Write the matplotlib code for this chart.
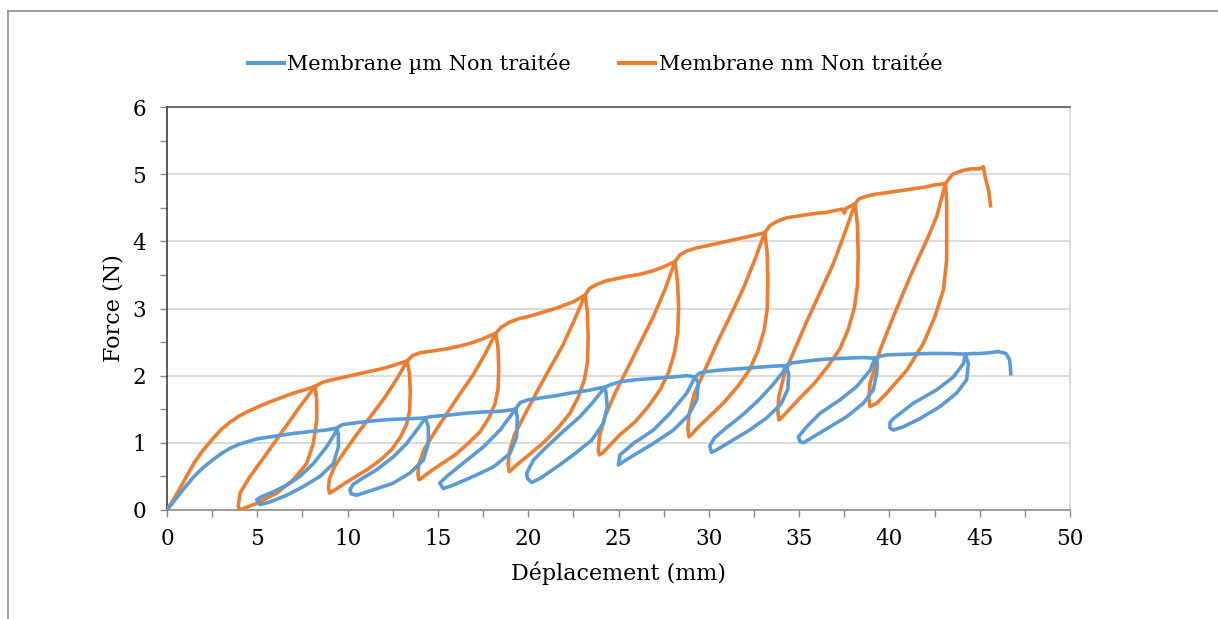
import numpy as np
import matplotlib.pyplot as plt
from matplotlib.lines import Line2D
from matplotlib.ticker import MultipleLocator

# Cyclic load / unload curves, (displacement mm, force N) in acquisition order
um_points = [
    # first loading
    (0, 0), (0.5, 0.17), (1, 0.34), (1.5, 0.5), (2, 0.63), (2.5, 0.74), (3, 0.84), (3.5, 0.92),
    (4, 0.98), (4.5, 1.02), (5, 1.06), (5.5, 1.08), (6, 1.1), (7, 1.14), (8, 1.17), (8.8, 1.19), (9.4, 1.22),
    # cycle 1
    (9.49, 1.12), (9.49, 0.94), (9.21, 0.69), (8.47, 0.50), (7.55, 0.35), (6.63, 0.22), (5.70, 0.12), (5.15, 0.08),
    (4.97, 0.15), (5.24, 0.20), (5.89, 0.27), (6.63, 0.37), (7.36, 0.50), (8.10, 0.69), (8.84, 0.94), (9.30, 1.14), (9.4, 1.22),
    (9.7, 1.27), (10.5, 1.3), (11.5, 1.33), (12.5, 1.35), (13.5, 1.36), (14.3, 1.37),
    # cycle 2
    (14.47, 1.24), (14.47, 0.99), (14.19, 0.74), (13.45, 0.55), (12.53, 0.40), (11.42, 0.30), (10.5, 0.22), (10.2, 0.24),
    (10.13, 0.30), (10.3, 0.38), (10.69, 0.45), (11.61, 0.60), (12.53, 0.79), (13.27, 0.99), (13.91, 1.22), (14.3, 1.37),
    (14.6, 1.39), (15.5, 1.41), (16.5, 1.44), (17.5, 1.46), (18.5, 1.47), (19.3, 1.5),
    # cycle 3
    (19.4, 1.38), (19.36, 1.09), (18.99, 0.84), (18.07, 0.64), (16.96, 0.50), (15.85, 0.37), (15.3, 0.32),
    (15.1, 0.40), (15.49, 0.50), (16.6, 0.74), (17.52, 0.94), (18.44, 1.19), (18.99, 1.39), (19.3, 1.5),
    (19.55, 1.6), (20, 1.64), (20.5, 1.66), (21.5, 1.7), (22.3, 1.74), (23.3, 1.78), (24.25, 1.83),
    # cycle 4
    (24.31, 1.74), (24.38, 1.54), (24.16, 1.29), (23.52, 1.04), (22.59, 0.84), (21.58, 0.64), (20.65, 0.47), (20.19, 0.41),
    (19.95, 0.47), (19.92, 0.55), (20.28, 0.74), (21.02, 0.94), (21.94, 1.17), (22.87, 1.39), (23.6, 1.61), (24.25, 1.83),
    (24.6, 1.87), (25.1, 1.91), (26, 1.94), (27, 1.96), (28, 1.98), (28.8, 2.0), (29.24, 1.98),
    # cycle 5
    (29.42, 1.89), (29.33, 1.64), (28.87, 1.41), (28.04, 1.19), (26.93, 0.99), (26.0, 0.84), (25.27, 0.72), (24.99, 0.67),
    (25.08, 0.82), (25.82, 0.99), (26.93, 1.19), (27.85, 1.44), (28.78, 1.74), (29.24, 1.98),
    (29.5, 2.04), (29.9, 2.06), (30.5, 2.08), (31.5, 2.1), (32.5, 2.12), (33.5, 2.14), (34.28, 2.15),
    # cycle 6
    (34.42, 2.03), (34.38, 1.80), (34.0, 1.58), (33.2, 1.37), (32.2, 1.18), (31.2, 1.02), (30.4, 0.89), (30.15, 0.86),
    (30.05, 0.95), (30.3, 1.07), (30.9, 1.21), (31.8, 1.40), (32.7, 1.62), (33.5, 1.85), (34.1, 2.05), (34.28, 2.15),
    (34.6, 2.19), (35.2, 2.21), (35.8, 2.23), (36.7, 2.25), (37.6, 2.26), (38.5, 2.27), (39.2, 2.26),
    # cycle 7
    (39.33, 2.18), (39.3, 2.04), (39.11, 1.79), (38.56, 1.59), (37.64, 1.39), (36.71, 1.24), (35.79, 1.09), (35.24, 1.0), (35.05, 1.02),
    (34.96, 1.09), (35.42, 1.24), (36.16, 1.44), (37.26, 1.64), (38.19, 1.84), (38.93, 2.08), (39.2, 2.26),
    (39.5, 2.29), (39.9, 2.31), (41, 2.32), (42.2, 2.33), (43.3, 2.33), (44.2, 2.32),
    # cycle 8
    (44.37, 2.18), (44.28, 1.94), (43.72, 1.74), (42.8, 1.54), (41.69, 1.36), (40.77, 1.24), (40.22, 1.19), (40.03, 1.22),
    (40.03, 1.30), (40.22, 1.36), (41.32, 1.59), (42.62, 1.79), (43.54, 1.98), (44.1, 2.18), (44.2, 2.32),
    # final loading to rupture
    (44.6, 2.33), (45.0, 2.33), (45.5, 2.34), (46.0, 2.36), (46.45, 2.33), (46.65, 2.24), (46.7, 2.12), (46.72, 2.03),
]

nm_points = [
    # first loading
    (0, 0), (0.5, 0.22), (1, 0.46), (1.5, 0.7), (2, 0.89), (2.5, 1.05), (3, 1.2), (3.5, 1.31), (4, 1.4),
    (4.5, 1.47), (5, 1.53), (5.5, 1.59), (6, 1.64), (6.5, 1.69), (7, 1.74), (7.5, 1.78), (8.2, 1.84),
    # cycle 1
    (8.29, 1.64), (8.29, 1.34), (8.10, 0.99), (7.73, 0.69), (6.99, 0.45), (6.07, 0.25), (4.97, 0.10), (4.13, 0.01), (4.0, 0.0),
    (3.95, 0.07), (4.04, 0.25), (4.60, 0.50), (5.52, 0.84), (6.44, 1.19), (7.36, 1.54), (8.2, 1.84),
    (8.6, 1.90), (9, 1.93), (9.5, 1.96), (10, 1.99), (10.5, 2.02), (11, 2.05), (11.5, 2.08), (12, 2.11), (12.5, 2.15), (13.3, 2.22),
    # cycle 2
    (13.43, 2.02), (13.47, 1.75), (13.43, 1.47), (13.26, 1.27), (12.91, 1.08), (12.44, 0.90), (11.80, 0.74), (11.02, 0.59),
    (10.16, 0.45), (9.52, 0.34), (9.13, 0.27), (9.0, 0.25),
    (8.94, 0.33), (9.0, 0.47), (9.30, 0.66), (9.86, 0.88), (10.55, 1.14), (11.32, 1.41), (12.05, 1.67), (12.70, 1.94), (13.3, 2.22),
    (13.6, 2.3), (14, 2.34), (14.5, 2.36), (15, 2.38), (15.5, 2.40), (16, 2.43), (16.5, 2.46), (17, 2.5), (17.5, 2.55), (18.2, 2.63),
    # cycle 3
    (18.33, 2.41), (18.37, 2.11), (18.33, 1.80), (18.16, 1.58), (17.82, 1.37), (17.35, 1.17), (16.71, 1.00), (15.95, 0.82),
    (15.10, 0.67), (14.46, 0.55), (14.08, 0.47), (13.95, 0.45),
    (13.89, 0.54), (13.95, 0.69), (14.25, 0.91), (14.80, 1.15), (15.48, 1.43), (16.25, 1.74), (16.97, 2.02), (17.61, 2.32), (18.2, 2.63),
    (18.5, 2.72), (19, 2.8), (19.5, 2.85), (20, 2.88), (20.5, 2.92), (21, 2.96), (21.5, 3.0), (22, 3.05), (22.5, 3.1), (23.15, 3.2),
    # cycle 4
    (23.28, 2.94), (23.32, 2.57), (23.28, 2.20), (23.11, 1.94), (22.77, 1.68), (22.31, 1.44), (21.68, 1.23), (20.92, 1.02),
    (20.08, 0.83), (19.45, 0.69), (19.08, 0.60), (18.95, 0.57),
    (18.89, 0.68), (18.95, 0.86), (19.24, 1.12), (19.79, 1.41), (20.46, 1.75), (21.22, 2.12), (21.93, 2.46), (22.56, 2.83), (23.15, 3.2),
    (23.4, 3.3), (23.8, 3.36), (24.3, 3.41), (25, 3.45), (25.5, 3.48), (26, 3.5), (26.5, 3.53), (27, 3.57), (27.5, 3.62), (28.13, 3.7),
    # cycle 5
    (28.26, 3.42), (28.33, 3.03), (28.28, 2.63), (28.09, 2.33), (27.76, 2.04), (27.30, 1.79), (26.65, 1.54), (25.91, 1.31),
    (25.08, 1.12), (24.44, 0.94), (24.07, 0.84), (23.94, 0.82),
    (23.88, 0.89), (23.94, 1.09), (24.25, 1.39), (24.81, 1.74), (25.45, 2.08), (26.19, 2.48), (26.93, 2.88), (27.57, 3.28), (28.13, 3.7),
    (28.4, 3.8), (28.8, 3.86), (29.3, 3.9), (30, 3.94), (30.5, 3.97), (31, 4.0), (31.5, 4.03), (32, 4.06), (32.5, 4.09), (33.1, 4.13),
    # cycle 6
    (33.23, 3.83), (33.27, 3.40), (33.23, 2.98), (33.06, 2.67), (32.72, 2.37), (32.26, 2.09), (31.63, 1.85), (30.87, 1.61),
    (30.03, 1.39), (29.40, 1.23), (29.03, 1.12), (28.9, 1.09),
    (28.84, 1.21), (28.9, 1.42), (29.19, 1.73), (29.74, 2.06), (30.41, 2.46), (31.17, 2.88), (31.88, 3.28), (32.51, 3.70), (33.1, 4.13),
    (33.4, 4.24), (33.8, 4.3), (34.3, 4.35), (35, 4.38), (35.5, 4.4), (36, 4.42), (36.5, 4.43), (37, 4.46), (37.4, 4.48),
    (37.5, 4.42), (37.6, 4.49), (38.1, 4.56),
    # cycle 7
    (38.23, 4.24), (38.27, 3.79), (38.23, 3.34), (38.06, 3.01), (37.72, 2.69), (37.26, 2.40), (36.62, 2.15), (35.86, 1.89),
    (35.02, 1.66), (34.39, 1.48), (34.01, 1.37), (33.88, 1.34),
    (33.82, 1.47), (33.88, 1.69), (34.18, 2.02), (34.72, 2.37), (35.40, 2.79), (36.16, 3.24), (36.88, 3.66), (37.51, 4.11), (38.1, 4.56),
    (38.3, 4.63), (38.7, 4.67), (39.2, 4.7), (40, 4.73), (40.5, 4.75), (41, 4.77), (41.5, 4.79), (42, 4.81), (42.5, 4.84), (43.1, 4.86),
    # cycle 8
    (43.17, 4.62), (43.17, 4.12), (43.17, 3.72), (42.99, 3.28), (42.52, 2.88), (41.88, 2.48), (40.96, 2.08), (39.85, 1.74),
    (39.3, 1.59), (38.92, 1.54),
    (38.86, 1.67), (38.93, 1.89), (39.48, 2.38), (40.22, 2.88), (41.14, 3.47), (42.07, 4.02), (42.62, 4.37), (43.1, 4.86),
    # final loading to rupture
    (43.5, 5.0), (44, 5.05), (44.5, 5.08), (45.0, 5.08), (45.2, 5.11), (45.3, 4.96), (45.5, 4.75), (45.6, 4.53),
]

labels = ["Membrane µm Non traitée", "Membrane nm Non traitée"]
colors = ["#5B9BD5", "#ED7D31"]

plt.rcParams['font.family'] = 'DejaVu Serif'
fig = plt.figure(figsize=(12.18, 6.19), dpi=100)
ax = fig.add_axes([0.1371, 0.1761, 0.7414, 0.651])

um = np.array(um_points).T
nm = np.array(nm_points).T
ax.plot(nm[0], nm[1], color=colors[1], lw=2.6, solid_joinstyle='round', zorder=3)
ax.plot(um[0], um[1], color=colors[0], lw=2.6, solid_joinstyle='round', zorder=4)

ax.set_xlim(0, 50)
ax.set_ylim(0, 6)
ax.xaxis.set_major_locator(MultipleLocator(5))
ax.xaxis.set_minor_locator(MultipleLocator(2.5))
ax.yaxis.set_major_locator(MultipleLocator(1))
ax.yaxis.set_minor_locator(MultipleLocator(0.5))
ax.tick_params(which='both', direction='out', length=5, width=1, color='#8c8c8c', labelsize=15.5)
ax.tick_params(axis='x', pad=8)
ax.tick_params(axis='y', pad=10)
ax.grid(axis='y', which='major', color='#d9d9d9', lw=1.3)
ax.set_axisbelow(True)

ax.spines['left'].set_color('#404040')
ax.spines['bottom'].set_color('#8c8c8c')
ax.spines['top'].set_color('#595959')
ax.spines['right'].set_color('#d4d4d4')
for s in ax.spines.values():
    s.set_linewidth(1.2)

ax.set_xlabel("Déplacement (mm)", fontsize=16, labelpad=8)
ax.set_ylabel("Force (N)", fontsize=16, labelpad=6)

handles = [Line2D([], [], color=c, lw=3) for c in colors]
fig.legend(handles, labels, loc='center', bbox_to_anchor=(595 / 1218, 1 - 64 / 619), ncol=2,
           frameon=False, fontsize=15, handlelength=1.75, handletextpad=0.15, columnspacing=2.3)

# outer frame
fig.add_artist(Line2D([8 / 1218, 8 / 1218], [0, 1 - 10.5 / 619], transform=fig.transFigure, color='#8c8c8c', lw=1.2))
fig.add_artist(Line2D([8 / 1218, 1], [1 - 10.5 / 619, 1 - 10.5 / 619], transform=fig.transFigure, color='#8c8c8c', lw=1.2))

fig.savefig("out.png", dpi=100)
